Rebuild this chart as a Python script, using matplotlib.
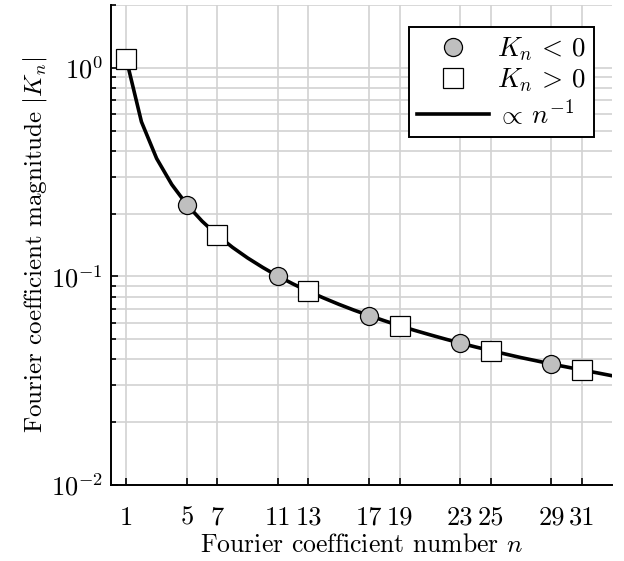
import matplotlib
matplotlib.use("Agg")
import matplotlib.pyplot as plt
from matplotlib.ticker import LogLocator, FixedLocator, NullFormatter

plt.rcParams["font.family"] = "serif"
plt.rcParams["font.serif"] = ["cmr10", "DejaVu Serif"]
plt.rcParams["mathtext.fontset"] = "cm"
plt.rcParams["axes.formatter.use_mathtext"] = True

# Harmonic magnitudes, split by sign of K_n
n_neg = [5, 11, 17, 23, 29]
k_neg = [0.2205, 0.1002, 0.0649, 0.0479, 0.0380]
n_pos = [1, 7, 13, 19, 25, 31]
k_pos = [1.1027, 0.1575, 0.0848, 0.0580, 0.0441, 0.0356]

# Reference envelope proportional to 1/n
n_env = list(range(1, 34))
k_env = [1.1027, 0.5513, 0.3676, 0.2757, 0.2205, 0.1838, 0.1575, 0.1378,
         0.1225, 0.1103, 0.1002, 0.0919, 0.0848, 0.0788, 0.0735, 0.0689,
         0.0649, 0.0613, 0.0580, 0.0551, 0.0525, 0.0501, 0.0479, 0.0459,
         0.0441, 0.0424, 0.0408, 0.0394, 0.0380, 0.0368, 0.0356, 0.0345,
         0.0334]

x_ticks = [1, 5, 7, 11, 13, 17, 19, 23, 25, 29, 31]
y_ticks = [1e-2, 1e-1, 1e0]
y_tick_labels = ["$10^{-2}$", "$10^{-1}$", "$10^{0}$"]

fig = plt.figure(figsize=(6.24, 5.61), dpi=100)
ax = fig.add_axes([0.178, 0.1355, 0.803, 0.8555])

ax.set_yscale("log")
ax.set_xlim(0, 33)
ax.set_ylim(0.01, 2)

grid_col = "#d2d2d2"
ax.set_xticks(x_ticks)
ax.set_xticklabels([str(v) for v in x_ticks])
ax.yaxis.set_major_locator(FixedLocator(y_ticks))
ax.set_yticklabels(y_tick_labels)
ax.yaxis.set_minor_locator(LogLocator(base=10, subs=range(2, 10), numticks=20))
ax.yaxis.set_minor_formatter(NullFormatter())
ax.grid(True, which="major", axis="x", color=grid_col, lw=1.2, zorder=0)
ax.grid(True, which="both", axis="y", color=grid_col, lw=1.2, zorder=0)
ax.set_axisbelow(True)

ax.tick_params(axis="both", which="both", direction="in", labelsize=19,
               width=1.2, length=5, pad=6)
ax.tick_params(axis="y", which="minor", length=3.5)
ax.tick_params(axis="x", pad=15)

for side in ("top", "right"):
    ax.spines[side].set_visible(False)
for side in ("left", "bottom"):
    ax.spines[side].set_linewidth(1.4)

line, = ax.plot(n_env, k_env, color="black", lw=2.6, zorder=2,
                label=r"$\propto\, n^{-1}$")
circ, = ax.plot(n_neg, k_neg, ls="none", marker="o", ms=13, mfc="#bfbfbf",
                mec="black", mew=0.9, zorder=3, label=r"$K_n\, <\, 0$")
sq, = ax.plot(n_pos, k_pos, ls="none", marker="s", ms=14, mfc="white",
              mec="black", mew=0.9, zorder=3, label=r"$K_n\, >\, 0$")

ax.set_xlabel("Fourier coefficient number $n$", fontsize=18.5, labelpad=3)
ax.set_ylabel("Fourier coefficient magnitude $|K_n|$", fontsize=18, labelpad=1)

leg = ax.legend(handles=[circ, sq, line], loc="upper right",
                bbox_to_anchor=(594 / 624, 1 - 27 / 561),
                bbox_transform=fig.transFigure, borderaxespad=0,
                fontsize=19.5, frameon=True, fancybox=False, framealpha=1,
                edgecolor="black", handlelength=2.65, handletextpad=0.3,
                labelspacing=0.14, borderpad=0.3, markerfirst=True)
leg.get_frame().set_linewidth(1.4)

fig.savefig("out.png", dpi=100)
